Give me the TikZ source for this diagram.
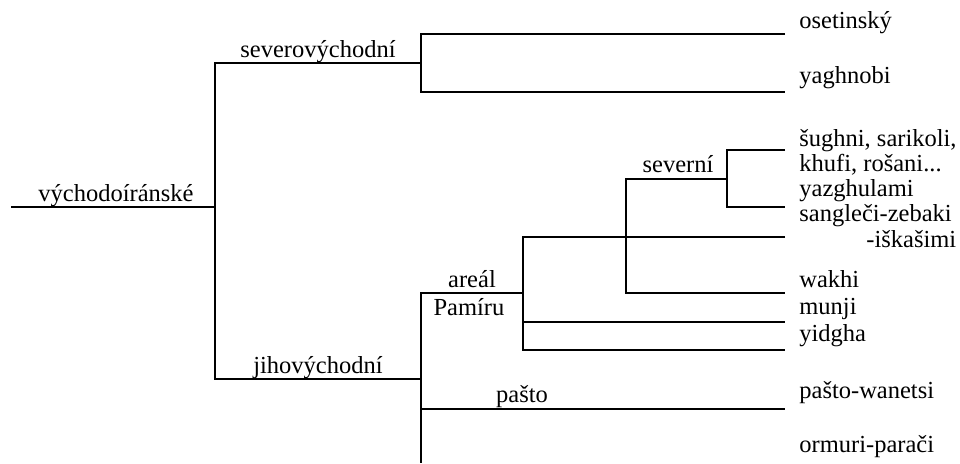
\documentclass[tikz,border=0pt]{standalone}
\usepackage{fontspec}
\setmainfont{Liberation Serif}
\begin{document}
\begin{tikzpicture}[x=0.5pt,y=-0.5pt,
  lab/.style={inner sep=0pt,font=\fontsize{12.25pt}{14pt}\selectfont},
  leaf/.style={lab,anchor=base west},
  clab/.style={lab,anchor=base},
  edge/.style={line width=0.65pt},
  thickedge/.style={line width=1.3pt}]
\useasboundingbox (0,0) rectangle (960,463);
% junction coordinates
\coordinate (root) at (11,207);
\coordinate (rj) at (215,207);
\coordinate (nt) at (215,63);
\coordinate (ntr) at (421,63);
\coordinate (st) at (215,379);
\coordinate (str) at (421,379);
\coordinate (osA) at (421,34);
\coordinate (osB) at (785,34);
\coordinate (yaA) at (421,92);
\coordinate (yaB) at (785,92);
\coordinate (pamA) at (421,293);
\coordinate (pamB) at (523,293);
\coordinate (bot) at (421,463);
\coordinate (paA) at (421,409);
\coordinate (paB) at (785,409);
\coordinate (saA) at (523,237);
\coordinate (saB) at (785,237);
\coordinate (yiA) at (523,350);
\coordinate (yiB) at (785,350);
\coordinate (muA) at (523,322);
\coordinate (muB) at (785,322);
\coordinate (seA) at (626,179);
\coordinate (seB) at (727,179);
\coordinate (waA) at (626,293);
\coordinate (waB) at (785,293);
\coordinate (shA) at (727,150);
\coordinate (shB) at (785,150);
\coordinate (yzA) at (727,207);
\coordinate (yzB) at (785,207);
% branches
\draw[edge] (root) -- (rj);
\draw[edge] (ntr) -- (nt) -- (st) -- (str);
\draw[edge] (osB) -- (osA) -- (yaA) -- (yaB);
\draw[edge] (pamB) -- (pamA) -- (bot);
\draw[thickedge] (paA) -- (paB);
\draw[edge] (saB) -- (saA) -- (yiA) -- (yiB);
\draw[edge] (muA) -- (muB);
\draw[edge] (seB) -- (seA) -- (waA) -- (waB);
\draw[edge] (shB) -- (shA) -- (yzA) -- (yzB);
% inner labels
\node[clab] (vych) at (116,201) {východoíránské};
\node[clab] (sv) at (318,57) {severovýchodní};
\node[clab] (jv) at (318,373) {jihovýchodní};
\node[clab] (areal) at (472,287) {areál};
\node[clab] (pamiru) at (469,315) {Pamíru};
\node[clab] (pashto) at (522,402) {pašto};
\node[clab] (severni) at (678,172) {severní};
% leaves
\node[leaf] (l1) at (799,28) {osetinský};
\node[leaf] (l2) at (799,83) {yaghnobi};
\node[leaf] (l3) at (799,146) {šughni, sarikoli,};
\node[leaf] (l4) at (799,171) {khufi, rošani...};
\node[leaf] (l5) at (799,196) {yazghulami};
\node[leaf] (l6) at (799,221) {sangleči-zebaki};
\node[leaf] (l7) at (866,247) {-iškašimi};
\node[leaf] (l8) at (799,287) {wakhi};
\node[leaf] (l9) at (799,314) {munji};
\node[leaf] (l10) at (799,341) {yidgha};
\node[leaf] (l11) at (799,398) {pašto-wanetsi};
\node[leaf] (l12) at (799,452) {ormuri-parači};
\end{tikzpicture}
\end{document}
